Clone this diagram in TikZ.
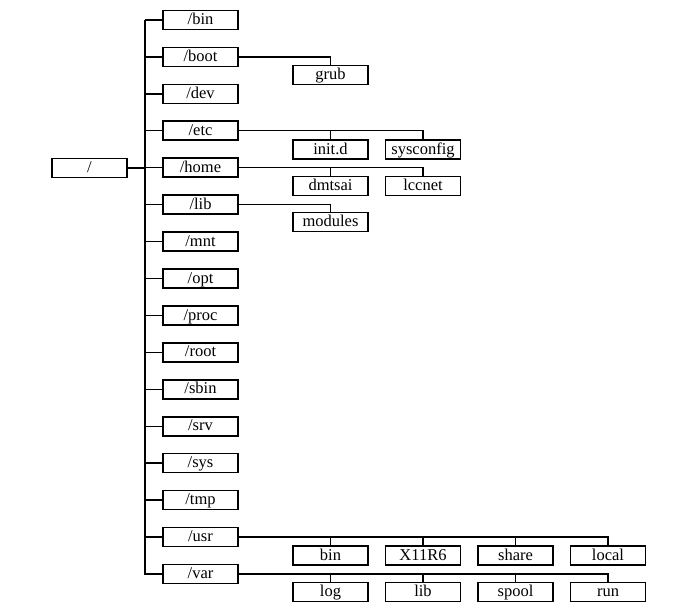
\documentclass[tikz,border=0pt]{standalone}
\usepackage{fontspec}
\setmainfont{Liberation Serif}
\begin{document}
\begin{tikzpicture}[x=1pt,y=-1pt,
  dirbox/.style={draw,line width=1.6pt,rectangle,minimum width=75pt,minimum height=19pt,inner sep=0pt,text height=12pt,text depth=2.8pt,font=\fontsize{16.5}{16.5}\selectfont},
  link/.style={line width=1.4pt}]
\useasboundingbox (0,0) rectangle (682,611);
\node[dirbox] (root) at (89.5,168) {/};
\coordinate (ttop) at (145,20);
\coordinate (tbot) at (145,575);
\foreach \n [count=\i from 0] in {bin,boot,dev,etc,home,lib,mnt,opt,proc,root,sbin,srv,sys,tmp,usr,var}{
  \node[dirbox] (d\n) at (200.5,{20+36.93*\i}) {/\n};
  \draw[link] (d\n.west) -- (d\n.west -| ttop);
}
\draw[link] (ttop) -- (tbot);
\draw[link] (root.east) -- (root.east -| ttop);
% children
\node[dirbox] (grub) at (330.5,75) {grub};
\node[dirbox] (initd) at (330.5,149.5) {init.d};
\node[dirbox] (sysconfig) at (423,149.5) {sysconfig};
\node[dirbox] (dmtsai) at (330.5,186) {dmtsai};
\node[dirbox] (lccnet) at (423,186) {lccnet};
\node[dirbox] (modules) at (330.5,222) {modules};
\node[dirbox] (ubin) at (330.5,555.5) {bin};
\node[dirbox] (ux) at (423,555.5) {X11R6};
\node[dirbox] (ushare) at (515.5,555.5) {share};
\node[dirbox] (ulocal) at (608,555.5) {local};
\node[dirbox] (vlog) at (330.5,592) {log};
\node[dirbox] (vlib) at (423,592) {lib};
\node[dirbox] (vspool) at (515.5,592) {spool};
\node[dirbox] (vrun) at (608,592) {run};
\draw[link] (dboot.east) -| (grub.north);
\draw[link] (detc.east) -| (sysconfig.north);
\draw[link] (initd.north) -- (initd.north |- detc.east);
\draw[link] (dhome.east) -| (lccnet.north);
\draw[link] (dmtsai.north) -- (dmtsai.north |- dhome.east);
\draw[link] (dlib.east) -| (modules.north);
\draw[link] (dusr.east) -| (ulocal.north);
\draw[link] (ubin.north) -- (ubin.north |- dusr.east);
\draw[link] (ux.north) -- (ux.north |- dusr.east);
\draw[link] (ushare.north) -- (ushare.north |- dusr.east);
\draw[link] (dvar.east) -| (vrun.north);
\draw[link] (vlog.north) -- (vlog.north |- dvar.east);
\draw[link] (vlib.north) -- (vlib.north |- dvar.east);
\draw[link] (vspool.north) -- (vspool.north |- dvar.east);
\end{tikzpicture}
\end{document}
